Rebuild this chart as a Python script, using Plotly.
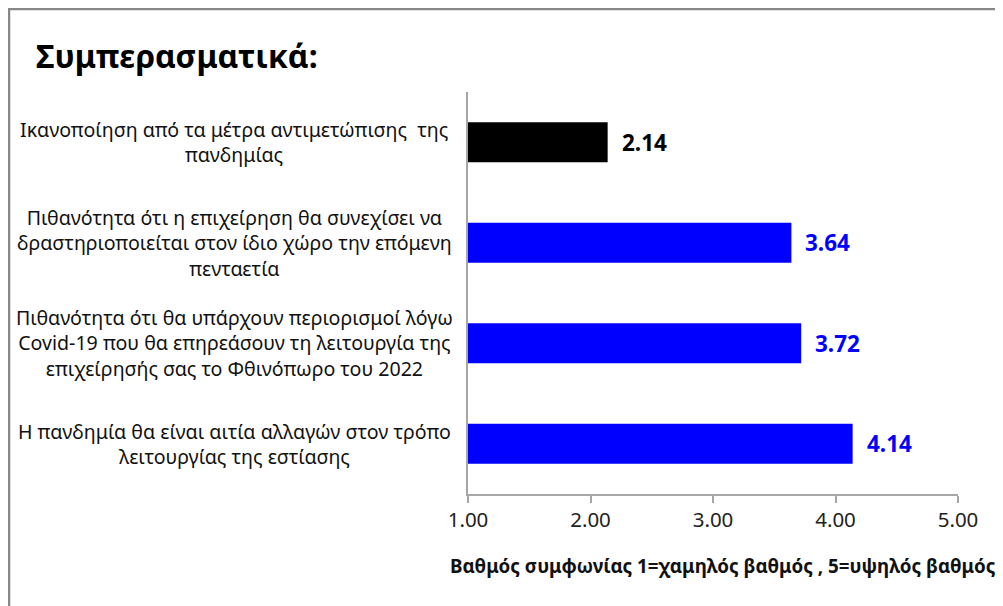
import plotly.graph_objects as go

categories = [
    "Ικανοποίηση από τα μέτρα αντιμετώπισης  της<br>πανδημίας",
    "Πιθανότητα ότι η επιχείρηση θα συνεχίσει να<br>δραστηριοποιείται στον ίδιο χώρο την επόμενη<br>πενταετία",
    "Πιθανότητα ότι θα υπάρχουν περιορισμοί λόγω<br>Covid-19 που θα επηρεάσουν τη λειτουργία της<br>επιχείρησής σας το Φθινόπωρο του 2022",
    "Η πανδημία θα είναι αιτία αλλαγών στον τρόπο<br>λειτουργίας της εστίασης",
]
values = [2.14, 3.64, 3.72, 4.14]
bar_colors = ["#000000", "#0000FF", "#0000FF", "#0000FF"]
tick_values = [1, 2, 3, 4, 5]
title_text = "Συμπερασματικά:"
x_title = "Βαθμός συμφωνίας 1=χαμηλός βαθμός , 5=υψηλός βαθμός"

FONT = "Noto Sans, Open Sans, sans-serif"
OFF = 8  # page offset in the browser
W, H = 1003 - OFF, 606 - OFF
L, T = 468 - OFF, 92 - OFF
pw, ph = 490, 402
R = W - L - pw
B = H - T - ph

def px_x(px):
    return (px - OFF - L) / pw

def px_y(py):
    return (T + ph - (py - OFF)) / ph

fig = go.Figure()
fig.add_trace(go.Bar(
    y=categories, x=[v - 1 for v in values], base=1, orientation="h",
    marker=dict(color=bar_colors, line=dict(width=0)),
    width=0.4, hoverinfo="skip",
))

annotations = []
for c, v, col in zip(categories, values, bar_colors):
    annotations.append(dict(
        x=v, y=c, xref="x", yref="y", text=f"<b>{v:.2f}</b>",
        showarrow=False, xanchor="left", xshift=12,
        font=dict(family=FONT, size=22.5, color=col),
    ))
    annotations.append(dict(
        x=px_x(234), y=c, xref="paper", yref="y", text=c,
        showarrow=False, xanchor="center", align="center",
        font=dict(family=FONT, size=19.6, color="#111111"),
    ))
annotations.append(dict(
    x=px_x(448), y=px_y(566), xref="paper", yref="paper",
    text=f"<b>{x_title}</b>", showarrow=False, xanchor="left", yanchor="middle",
    font=dict(family=FONT, size=18.8, color="#111111"),
))
annotations.append(dict(
    x=px_x(34), y=px_y(56), xref="paper", yref="paper",
    text=f"<b>{title_text}</b>", showarrow=False, xanchor="left", yanchor="middle",
    font=dict(family=FONT, size=31.8, color="#000000"),
))

fig.update_layout(
    width=W, height=H,
    margin=dict(l=L, r=R, t=T, b=B),
    paper_bgcolor="white", plot_bgcolor="white",
    showlegend=False,
    annotations=annotations,
    shapes=[dict(
        type="rect", xref="paper", yref="paper",
        x0=px_x(9), x1=px_x(1030), y0=px_y(640), y1=px_y(9),
        line=dict(color="#888888", width=2.5), fillcolor="rgba(0,0,0,0)", layer="below",
    )],
    xaxis=dict(
        range=[1, 5], tickvals=tick_values, tickformat=".2f",
        showgrid=False, zeroline=False,
        showline=True, linecolor="#a6a6a6", linewidth=1.5,
        ticks="outside", ticklen=7, tickcolor="#a6a6a6", tickwidth=1.5,
        tickfont=dict(family=FONT, size=20.5, color="#222222"),
    ),
    yaxis=dict(
        autorange="reversed", showticklabels=False, showgrid=False,
        showline=True, linecolor="#a6a6a6", linewidth=1.5, ticks="",
    ),
)

fig.write_html("out.html")
